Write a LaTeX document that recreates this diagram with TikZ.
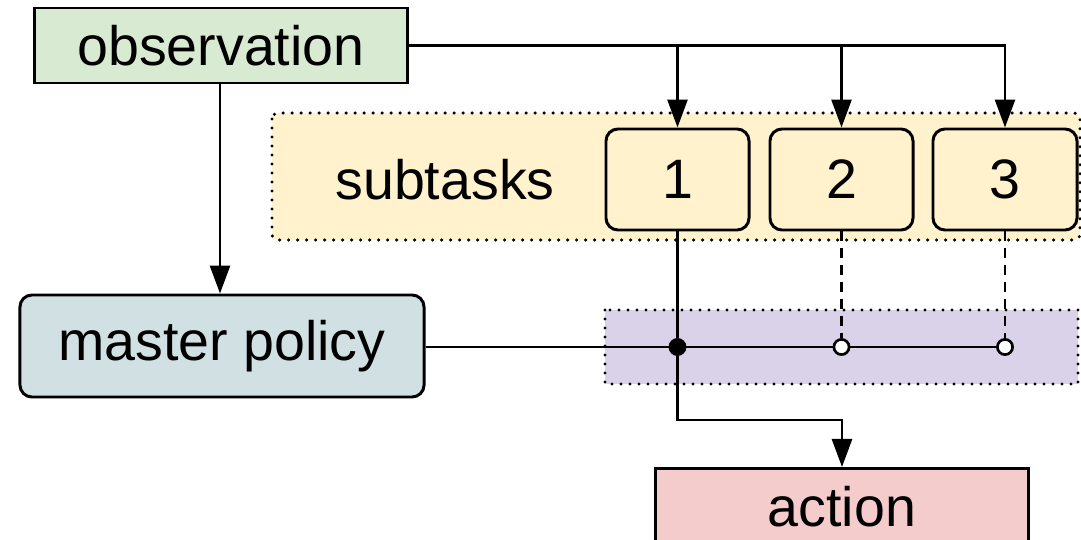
\documentclass[tikz,border=0pt]{standalone}
\usepackage{fontspec}
\setmainfont{Liberation Sans}
\usetikzlibrary{arrows.meta,calc}
\definecolor{obsgreen}{HTML}{D9EAD3}
\definecolor{mpblue}{HTML}{D0E0E3}
\definecolor{subyellow}{HTML}{FFF2CC}
\definecolor{selpurple}{HTML}{D9D2E9}
\definecolor{actred}{HTML}{F4CCCC}
\begin{document}
\begin{tikzpicture}[x=0.025cm,y=-0.025cm,
  every node/.style={font=\fontsize{39.5}{47}\selectfont},
  box/.style={draw=black,line width=2.1pt,inner sep=0pt},
  rbox/.style={box,rounded corners=0.3cm},
  region/.style={line width=2.4pt,dash pattern=on 0pt off 6.4pt,line cap=round},
  conn/.style={line width=1.9pt},
  arr/.style={conn,-{Triangle[length=0.7cm,width=0.5cm]}},
  dot/.style={circle,draw=black,line width=1.9pt,inner sep=0pt,minimum size=0.38cm}
]
\useasboundingbox (0,0) rectangle (1081,540);
\clip (0,0) rectangle (1081,540);

% shaded regions for the subtask row and the selector
\fill[subyellow,rounded corners=0.15cm] (272,113) rectangle (1080,240);
\draw[region,rounded corners=0.15cm] (272,113) rectangle (1080,240);
\fill[selpurple] (605,310) rectangle (1078,384);
\draw[region] (605,310) rectangle (1078,384);

% main blocks
\node[box,fill=obsgreen,minimum width=9.3cm,minimum height=1.875cm] (obs) at (221,45.5) {observation};
\node[rbox,fill=mpblue,minimum width=10.1cm,minimum height=2.55cm] (mp) at (222,346) {master policy};
\node (sub) at (445,180) {subtasks};
\node[rbox,fill=subyellow,minimum width=3.575cm,minimum height=2.525cm] (t1) at (677.5,179.5) {1};
\node[rbox,fill=subyellow,minimum width=3.575cm,minimum height=2.525cm] (t2) at (841.5,179.5) {2};
\node[rbox,fill=subyellow,minimum width=3.6cm,minimum height=2.525cm] (t3) at (1005,179.5) {3};
\node[box,fill=actred,anchor=north,minimum width=9.3cm,text height=0.98cm,text depth=1cm,inner ysep=0.47cm] (act) at (842,467) {action};

% switch points on the selector line
\node[dot,fill=black] (d1) at (t1 |- 0,347) {};
\node[dot,fill=white] (d2) at (t2 |- 0,347) {};
\node[dot,fill=white] (d3) at (t3 |- 0,347) {};
\coordinate (bend) at (t1 |- 0,420);

% observation feeds
\draw[arr] (obs.east) -| (t3.north);
\draw[arr] (obs.east -| t1.north) -- (t1.north);
\draw[arr] (obs.east -| t2.north) -- (t2.north);
\draw[arr] (obs.south -| 220,0) -- (mp.north -| 220,0);

% selector line from the master policy
\draw[conn] (mp.east |- d1) -- (d1);
\draw[conn] (d1) -- (d2);
\draw[conn] (d2) -- (d3);
\draw[conn,dash pattern=on 7pt off 5pt] (t2.south) -- (d2.north);
\draw[conn,dash pattern=on 7pt off 5pt] (t3.south) -- (d3.north);

% chosen subtask output to action
\draw[conn] (t1.south) -- (d1);
\draw[arr] (d1) -- (bend) -| (act.north);
\end{tikzpicture}
\end{document}
